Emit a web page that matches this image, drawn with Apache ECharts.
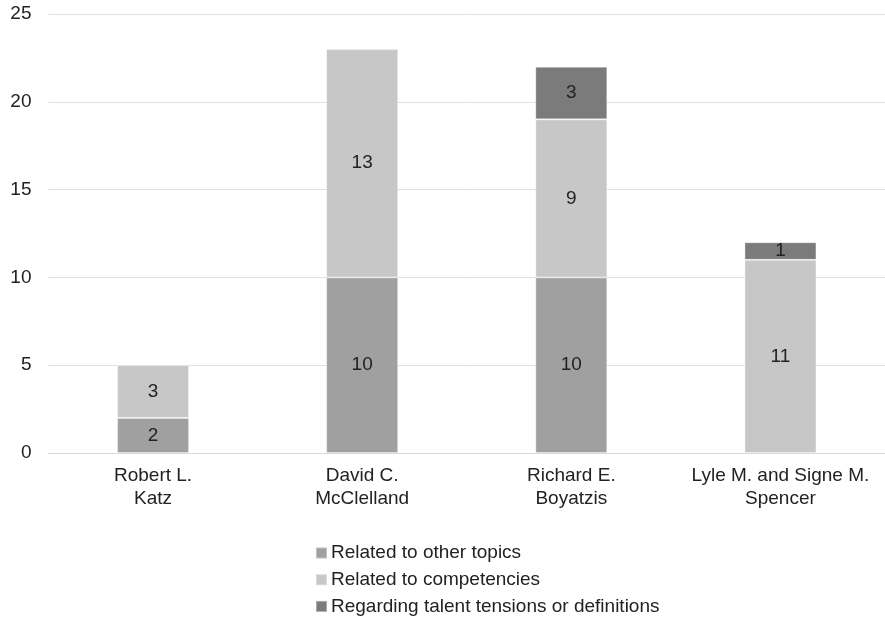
<!DOCTYPE html>
<html>
<head>
<meta charset="utf-8">
<script src="https://cdn.jsdelivr.net/npm/echarts@6/dist/echarts.min.js"></script>
<style>html,body{margin:0;padding:0;background:#fff;}#c{width:885px;height:619px;}</style>
</head>
<body>
<div id="c"></div>
<script>
const categories = ['Robert L.\nKatz', 'David C.\nMcClelland', 'Richard E.\nBoyatzis', 'Lyle M. and Signe M.\nSpencer'];
const seriesNames = ['Related to other topics', 'Related to competencies', 'Regarding talent tensions or definitions'];
const otherTopics = [2, 10, 10, null];
const competencies = [3, 13, 9, 11];
const talent = [null, null, 3, 1];
const yTicks = { min: 0, max: 25, interval: 5 };
const colors = ['#a0a0a0', '#c6c7c6', '#7b7b7b'];

const chart = echarts.init(document.getElementById('c'));
const font = 'Liberation Sans, Arial, sans-serif';
function mk(name, data, color) {
  return {
    name: name, type: 'bar', stack: 'total', data: data, barWidth: 72,
    itemStyle: { color: color, borderColor: 'rgba(255,255,255,0.35)', borderWidth: 1 },
    label: { show: true, position: 'inside', color: '#222', fontSize: 19, fontFamily: font },
    emphasis: { disabled: true }
  };
}
chart.setOption({
  animation: false,
  textStyle: { fontFamily: font },
  grid: { left: 48.5, right: -4, top: 14, bottom: 166, containLabel: false },
  xAxis: {
    type: 'category', data: categories,
    axisLine: { lineStyle: { color: '#d9d9d9', width: 1 } },
    axisTick: { show: false },
    axisLabel: { interval: 0, hideOverlap: false, color: '#222', fontSize: 19, lineHeight: 23.5, margin: 11, fontFamily: font }
  },
  yAxis: {
    type: 'value', min: yTicks.min, max: yTicks.max, interval: yTicks.interval,
    axisLine: { show: false }, axisTick: { show: false },
    splitLine: { lineStyle: { color: '#e0e0e0', width: 1 } },
    axisLabel: { color: '#222', fontSize: 19, margin: 17, fontFamily: font }
  },
  legend: {
    orient: 'vertical', left: 315, top: 543.5, padding: 0, itemGap: 7.7,
    itemWidth: 11, itemHeight: 11, icon: 'rect',
    textStyle: { color: '#222', fontSize: 19, lineHeight: 19, fontFamily: font, padding: [0, 0, 0, -1] },
    data: seriesNames
  },
  series: [
    mk(seriesNames[0], otherTopics, colors[0]),
    mk(seriesNames[1], competencies, colors[1]),
    mk(seriesNames[2], talent, colors[2])
  ]
});
</script>
</body>
</html>
